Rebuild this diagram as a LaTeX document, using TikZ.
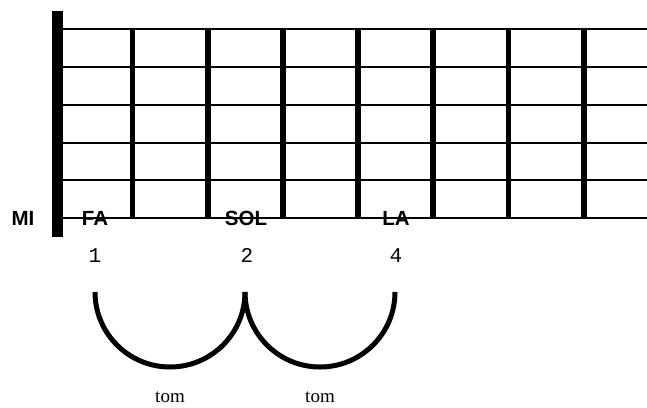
\documentclass[tikz,border=0pt]{standalone}
\usepackage{fontspec}
\setmainfont{Liberation Serif}
\newfontfamily\notefont{Liberation Sans}
\newfontfamily\fingerfont{Liberation Mono}
\begin{document}
\begin{tikzpicture}[x=1pt,y=1pt,
  stringline/.style={line width=2pt},
  fretline/.style={line width=5.5pt},
  nutline/.style={line width=11pt},
  notelabel/.style={font=\notefont\bfseries\fontsize{20.5}{20.5}\selectfont, inner sep=0pt, anchor=base},
  fingerlabel/.style={font=\fingerfont\fontsize{21}{21}\selectfont, inner sep=0pt, anchor=base},
  steplabel/.style={font=\fontsize{19}{19}\selectfont, inner sep=0pt, anchor=base},
  steparc/.style={line width=5pt}]
\useasboundingbox (0,0) rectangle (647,-407);

% strings
\foreach \y in {29,67,105,142.5,180,218}
  \draw[stringline] (60,-\y) -- (647,-\y);

% frets
\foreach \x in {132.5,208,283,358,433,508.5,584}
  \draw[fretline] (\x,-29) -- (\x,-218);

% nut
\draw[nutline] (57.5,-11) -- (57.5,-237);

% note names on the low string
\node[notelabel] (mi) at (23,-225.5) {MI};
\node[notelabel] (fa) at (95,-225.5) {FA};
\node[notelabel] (sol) at (246,-225.5) {SOL};
\node[notelabel] (la) at (396,-225.5) {LA};

% fingers
\node[fingerlabel] (n1) at (95,-262) {1};
\node[fingerlabel] (n2) at (247,-262) {2};
\node[fingerlabel] (n4) at (396,-262) {4};

% whole-step arcs
\coordinate (a1) at (95,-292);
\coordinate (a2) at (245,-292);
\coordinate (a3) at (395,-292);
\draw[steparc] (a1) arc[start angle=180,end angle=360,radius=75];
\draw[steparc] (a2) arc[start angle=180,end angle=360,radius=75];

\node[steplabel] (t1) at (170,-402.5) {tom};
\node[steplabel] (t2) at (320,-402.5) {tom};
\end{tikzpicture}
\end{document}
